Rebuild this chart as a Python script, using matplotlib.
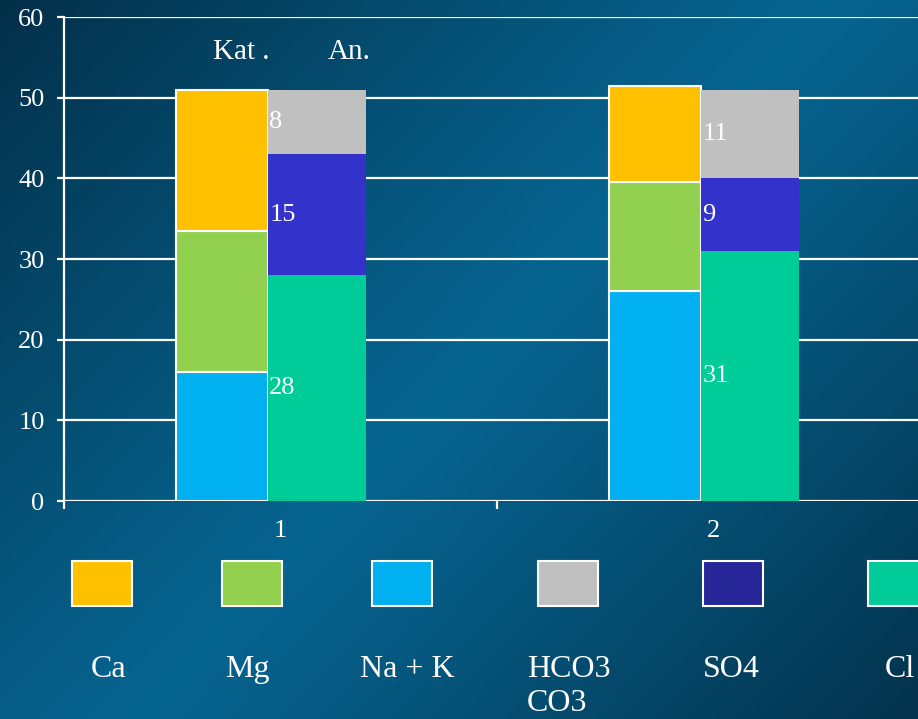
import numpy as np
import matplotlib
matplotlib.use("Agg")
import matplotlib.pyplot as plt
from matplotlib.patches import Rectangle

plt.rcParams['font.family'] = ['Liberation Serif', 'DejaVu Serif']

# samples and ion contents (meq %)
samples = [1, 2]
cations = ['Ca', 'Mg', 'Na + K']
anions = ['HCO3\nCO3', 'SO4', 'Cl']
na_k = [16, 26]
mg = [17.5, 13.6]
ca = [17.5, 11.8]
cl = [28, 31]
so4 = [15, 9]
hco3 = [8, 11]

bar_colors = {'Ca': '#FFC000', 'Mg': '#92D050', 'Na + K': '#00B0F0',
              'HCO3\nCO3': '#C0C0C0', 'SO4': '#3333CC', 'Cl': '#00CC99'}
legend_order = ['Ca', 'Mg', 'Na + K', 'HCO3\nCO3', 'SO4', 'Cl']
legend_colors = ['#FFC000', '#92D050', '#00B0F0', '#C0C0C0', '#262699', '#00CC99']

W, H = 918, 719
fig = plt.figure(figsize=(W / 100, H / 100), dpi=100)

# dark blue gradient background
bg = fig.add_axes([0, 0, 1, 1])
xx, yy = np.meshgrid(np.linspace(0, 1, 300), np.linspace(0, 1, 240))
t = np.clip(np.abs(xx * 1.05 + yy * 0.8 - 0.95), 0, 1) ** 1.1
bright = np.array([6, 100, 144]) / 255
dark = np.array([3, 44, 68]) / 255
img = bright[None, None, :] * (1 - t[..., None]) + dark[None, None, :] * t[..., None]
bg.imshow(img, aspect='auto', extent=[0, 1, 0, 1], origin='upper')
bg.set_axis_off()

ax = fig.add_axes([64 / W, 218 / H, 866 / W, 484 / H])
ax.set_facecolor('none')
ax.set_xlim(0.5, 2.5)
ax.set_ylim(0, 60)

x = np.array(samples, dtype=float)
kat_left = x - 0.241
kat_w = 0.211
an_left = x - 0.030
an_w = 0.228

# cation bars (white outline)
bottom = np.zeros(2)
for name, vals in [('Na + K', na_k), ('Mg', mg), ('Ca', ca)]:
    ax.bar(kat_left, vals, kat_w, bottom=bottom, align='edge',
           color=bar_colors[name], edgecolor='white', linewidth=1.5, zorder=3)
    bottom += vals

# anion bars with value labels
bottom = np.zeros(2)
for name, vals in [('Cl', cl), ('SO4', so4), ('HCO3\nCO3', hco3)]:
    ax.bar(an_left, vals, an_w, bottom=bottom, align='edge',
           color=bar_colors[name], linewidth=0, zorder=3)
    for xl, b, v in zip(an_left, bottom, vals):
        ax.text(xl + 0.004, b + v / 2, f'{v:g}', color='white', fontsize=19,
                ha='left', va='center', zorder=4)
    bottom += vals

ax.text(0.844, 54.8, 'Kat .', color='white', fontsize=21, va='baseline')
ax.text(1.110, 54.8, 'An.', color='white', fontsize=21, va='baseline')

# axes styling
ax.set_yticks(range(0, 61, 10))
ax.yaxis.grid(True, color='white', linewidth=1.6, zorder=0)
ax.set_axisbelow(True)
for s in ['top', 'right', 'bottom']:
    ax.spines[s].set_visible(False)
ax.spines['left'].set_color('white')
ax.spines['left'].set_linewidth(1.6)
ax.tick_params(axis='y', colors='white', labelsize=19, length=5, width=1.6, pad=9)
ax.set_xticks([0.5, 1.5, 2.5])
ax.set_xticklabels([])
ax.tick_params(axis='x', which='major', colors='white', length=6, width=1.6)
ax.set_xticks(samples, minor=True)
ax.set_xticklabels([str(s) for s in samples], minor=True)
ax.tick_params(axis='x', which='minor', colors='white', length=0, labelsize=19, pad=14)

# legend squares and labels
sq_x = [72, 222, 372, 538, 703, 868]
lab_x = [91, 225, 360, 527, 703, 885]
for name, col, sx, lx in zip(legend_order, legend_colors, sq_x, lab_x):
    fig.add_artist(Rectangle((sx / W, 1 - 606 / H), 60 / W, 45 / H,
                             transform=fig.transFigure, facecolor=col,
                             edgecolor='white', linewidth=1.5))
    for i, line in enumerate(name.split('\n')):
        fig.text(lx / W, 1 - (677 + 34 * i) / H, line, color='white',
                 fontsize=23, ha='left', va='baseline')

fig.savefig('out.png', dpi=100)
